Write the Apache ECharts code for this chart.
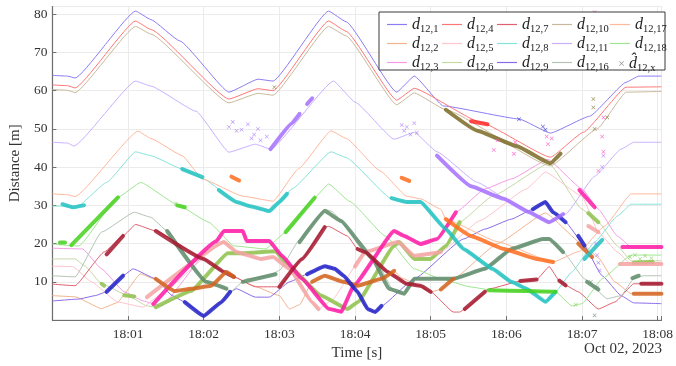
<!DOCTYPE html>
<html>
<head>
<meta charset="utf-8">
<script src="https://cdn.jsdelivr.net/npm/echarts@6/dist/echarts.min.js"></script>
<style>
  html, body { margin: 0; padding: 0; background: #fff; }
  #chart { width: 676px; height: 366px; }
</style>
</head>
<body>
<div id="chart"></div>
<script>
// time in seconds after 18:00:00, distance in metres
const xTicks = [60, 120, 180, 240, 300, 360, 420, 480];

const d12_1 = [[0,64],[12,63.8],[18,63.3],[66,80.8],[78,78.6],[101,73],[140,59.6],[163,63],[175,62.5],[219,80.8],[233,78],[273,59.6],[287,63.8],[310,56],[370,52.6],[395,48.9],[426,53.3],[455,62.2],[465,63.8],[483,63.8]];
const d12_4 = [[0,61.5],[12,61.3],[18,60.7],[66,78.2],[78,76],[140,57.8],[163,60.5],[175,60],[219,78.2],[233,75.5],[273,57.5],[287,60.6],[339,51.8],[395,42.6],[421,49.1],[455,60.9],[483,61]];
const d12_10 = [[0,60.3],[12,60.1],[18,59.5],[66,76.8],[78,74.8],[140,56.8],[163,59.3],[175,58.8],[219,76.8],[233,74.3],[273,56.3],[287,59.4],[312,55],[395,40.3],[432,50],[455,59.6],[483,59.8]];
const d12_11 = [[0,46.5],[12,46.3],[17,45.5],[66,62.5],[78,61.2],[114,54.6],[140,43.9],[161,46],[173,44.7],[223,62.5],[240,57],[271,47.3],[287,49.1],[305,44],[337,36],[368,30],[394,25.6],[407,27.7],[430,37.6],[451,44.7],[461,46.5],[483,46.5]];
const d12_17 = [[0,33],[12,32.8],[18,32.3],[68,49.4],[78,47.5],[103,43],[119,36.9],[151,32.4],[175,31.1],[195,39.5],[221,49.5],[233,47.5],[260,39],[281,32.4],[292,31.7],[308,29],[312,26.4],[353,20.5],[397,15.2],[418,18],[438,24.6],[459,33],[483,33]];
const d12_8 = [[0,29.8],[12,29.8],[18,29.2],[43,36],[66,44],[78,43],[103,39.5],[120,36.9],[146,30.9],[157,29.8],[172,28.5],[180,30.9],[190,34.3],[221,44],[233,42.5],[269,31.7],[281,30.9],[292,30.9],[312,23.8],[326,18.6],[349,13.4],[364,10],[376,8.2],[391,4.8],[399,7.4],[412,12.6],[430,20.4],[448,27.2],[459,30.3],[483,30.3]];
const d12_18 = [[0,19.9],[18,19.4],[21,19.4],[52,32.1],[70,36],[101,29.8],[124,25.6],[144,19.4],[169,18.6],[185,23],[208,32],[219,35.6],[236,31],[264,22],[287,13.4],[308,10.8],[331,8.7],[349,7.8],[376,7.6],[399,7.4],[412,3.7],[420,4.3],[436,10.8],[459,17],[483,17]];
const d12_3 = [[0,18.8],[24,18.6],[39,13.4],[57,7.4],[72,5],[86,3.7],[130,20.6],[136,23.3],[151,23.3],[154,20.7],[172,20.7],[182,16.8],[198,10.8],[219,3],[229,2.2],[239,9],[271,23.3],[279,22],[292,19.9],[305,21.2],[320,28.2],[343,34.3],[364,36.9],[393,42],[420,34.3],[433,29],[448,22],[459,19.1],[483,19.1]];
const d12_5 = [[0,14.1],[16,14],[31,10],[52,4.7],[72,3.4],[83,6],[136,20.4],[146,17.8],[165,16],[175,16.5],[188,13.4],[206,4.7],[211,2.9],[221,5],[248,17.8],[274,20.4],[287,16.8],[308,17.8],[339,26],[376,34.3],[391,38.7],[420,32.4],[433,23],[448,17.8],[459,14.7],[483,14.7]];
const d12_6 = [[0,16],[18,16],[26,14.1],[39,9.5],[60,6.4],[75,3.7],[82,3.4],[110,7.6],[139,17.5],[151,17.5],[177,18],[185,15],[213,6.4],[234,2.9],[242,4.7],[271,19.4],[275,20.4],[287,16],[300,16],[312,19.4],[323,25.6],[349,32.4],[394,41],[420,29],[433,25.6],[448,19.4],[459,15.5],[483,15.5]];
const d12_16 = [[0,11.6],[18,11.3],[39,23],[65,28.2],[78,26.9],[91,23.3],[122,10],[138,8.2],[141,7.4],[154,10.8],[172,11.6],[180,13],[196,21],[216,29],[221,28.5],[242,21.2],[256,16],[271,7.4],[279,6.9],[287,10.8],[318,10.8],[343,13.4],[364,18.6],[389,21.2],[394,21.2],[405,17.8],[422,10.8],[440,5.6],[451,6.4],[461,10.8],[469,11.6],[483,11.6]];
const d12_7 = [[0,9.4],[18,9],[41,17.8],[56,22],[66,25],[82,23.3],[120,16],[136,12.6],[144,11.3],[161,8.7],[180,8.7],[198,16],[216,24.3],[219,24.5],[234,22],[242,18.6],[248,17.8],[266,12.6],[281,9.5],[292,9],[300,7.4],[318,2.1],[323,2.1],[327,2.9],[347,8.2],[371,10.2],[384,10.6],[394,14],[402,10.3],[407,9.1],[417,7.4],[433,2.9],[446,4.7],[461,9.5],[483,9.5]];
const d12_2 = [[0,6.4],[18,6.1],[39,3],[51,4.5],[70,12.1],[80,10.8],[97,7.6],[110,8.2],[126,9],[138,12.6],[144,11.3],[159,9],[180,6.4],[188,2.9],[196,4],[206,10],[216,11.6],[231,10],[242,9],[261,10.8],[271,12.9],[277,11],[300,7.4],[308,8],[318,10.8],[353,20],[391,28],[422,19.4],[433,16.3],[446,10],[459,6.9],[483,6.9]];
const d12_9 = [[0,5],[21,5.5],[34,6.4],[43,7.4],[56,11.6],[64,13.4],[82,10.8],[95,6.4],[105,4.7],[120,1.1],[134,4.7],[141,7.4],[146,8.2],[161,6],[172,6],[188,10],[206,12.6],[216,14.1],[224,13.4],[231,11.6],[242,7.4],[250,2.9],[256,2.1],[261,3.7],[287,10.8],[326,21.2],[343,23.8],[364,26.4],[381,29],[391,30.9],[397,28.2],[407,25.6],[420,20.4],[436,11.6],[451,6.4],[461,4.5],[483,4.3]];

// estimated distances, dense runs of markers (each inner list is one run)
const estBlue = [[[43,7.4],[56,11.6]], [[105,4.7],[120,1.1],[134,4.7],[141,7.4]], [[202,12],[216,14.1],[224,13.4],[231,11.6],[242,7.4],[250,2.9],[256,2.1],[261,3.7]], [[381,29],[391,30.9],[397,28.2],[407,25.6]], [[417,22],[422,19.5]]];
const estOrangeBrown = [[[82,10.8],[97,7.6],[110,8.2],[126,9],[138,12.6],[144,11.3]], [[206,10],[216,11.6],[231,10],[242,9],[261,10.8],[271,12.9]], [[308,8],[318,10.8]], [[417,20],[428,16.5]], [[461,6.9],[483,6.9]]];
const estMaroon = [[[43,17.2],[56,22]], [[82,23.3],[120,16],[136,12.6],[144,11.3]], [[180,8.7],[198,16],[216,24.3]], [[242,18.6],[248,17.8],[266,12.6],[281,9.5],[292,9],[300,7.4]], [[327,2.9],[343,7.4]], [[371,10.2],[384,10.6]], [[402,10.3],[407,9.1]], [[467,9.5],[483,9.5]]];
const estGreen = [[[6,20.3],[10,20.3]], [[15,19.6],[52,32.1]], [[99,30],[105,29.5]], [[185,23],[208,32]], [[346,7.8],[376,7.6],[399,7.4]]];
const estTeal = [[[8,30.3],[16,29.5],[25,30]], [[103,39.5],[119,37.4]], [[132,34],[146,30.9],[157,29.8],[172,28.5],[180,30.9],[186,33]], [[269,31.9],[281,30.9],[292,30.9],[312,23.8],[326,18.6],[349,13.4],[364,10],[376,8.2],[391,4.8],[399,7.4]], [[422,16],[436,21]]];
const estMagenta = [[[80,4.2],[130,20.6],[136,23.3],[151,23.3],[154,20.7],[172,20.7],[182,16.8],[198,10.8],[219,3],[229,2.2],[239,9],[271,23.3],[279,22],[292,19.9],[305,21.2],[320,28.2]], [[418,34],[430,29.5]], [[452,19.1],[483,19.1]]];
const estSalmon = [[[75,6],[136,20.4],[146,17.8],[165,16],[175,16.5],[188,13.4],[206,4.7],[211,2.9]], [[240,14],[248,17.8],[274,20.4],[287,16.8],[308,17.8]], [[425,24.6],[433,23]], [[450,14.7],[483,14.7]]];
const estOlive = [[[39,9.5],[41,9]], [[57,6.5],[65,6.2]], [[82,3.4],[110,7.6],[139,17.5],[151,17.5],[177,18],[185,15],[213,6.4],[234,2.9],[242,4.7],[271,19.4],[275,20.4],[287,16],[300,16],[312,19.4],[323,25.6]], [[425,28],[433,25.6]], [[461,15],[476,15.2]]];
const estGray = [[[91,23.3],[122,10],[138,8.2]], [[151,10],[177,12]], [[196,20.4],[216,28.5],[229,25.9],[254,16],[267,8.2],[279,6.9],[287,10.8],[318,10.8],[343,13.4],[364,18.6],[389,21.2],[394,21.2],[405,17.8]], [[424,10],[433,8]], [[460,11],[465,11.6]]];
const estOrange = [[[312,26.4],[332,22],[358,18.6],[384,16],[397,15.2]], [[142,37.5],[148,36.5]], [[277,37.2],[283,36.4]]];
const estPurple = [[[173,44.7],[190,51.5],[196,53.9]], [[202,56.5],[206,58]], [[305,43],[332,35],[358,31.7],[378,28.2],[394,25.6],[405,27.7]]];
const estOliveBrown = [[[312,55],[337,49.5],[368,45.5],[395,41],[403,43.5]]];
const estRed = [[[332,52],[345,51.2]]];

// single scattered estimates
const dotsPurple = [[140,50.5],[143,51.8],[146,49.5],[150,49.8],[155,51.2],[158,47.5],[160,48.5],[163,50],[165,47],[170,48],[277,51],[279,49.5],[281,50.5],[284,48.5],[287,51.5],[289,49],[431,20],[432,17],[433,15],[434,13],[436,40],[437,43]];
const dotsPink = [[350,44.5],[353,47],[367,46.5],[366,43.5],[392,48],[393,46],[396,47.5],[430,80.5],[437,53],[436,48],[437,44],[433,39]];
const dotsOliveBrown = [[176,60.9],[429,57.8],[429,55.6],[430,50],[440,53]];
const dotsBlue = [[370,52.5],[389,50.6],[391,49.8]];
const dotsGreen = [[458,16.5],[462,17],[466,16],[470,16.8],[475,16.2],[415,4],[98,30.5]];
const dotsGray = [[427,10],[432,8.5],[430,1.2]];

const lines = [
    { key: "d12,1", color: "#8a7cf5", data: d12_1 },
    { key: "d12,2", color: "#f2b48e", data: d12_2 },
    { key: "d12,3", color: "#f59be6", data: d12_3 },
    { key: "d12,4", color: "#ff7676", data: d12_4 },
    { key: "d12,5", color: "#ffc4cc", data: d12_5 },
    { key: "d12,6", color: "#c5d9a4", data: d12_6 },
    { key: "d12,7", color: "#e0606e", data: d12_7 },
    { key: "d12,8", color: "#86e3da", data: d12_8 },
    { key: "d12,9", color: "#8a6be6", data: d12_9 },
    { key: "d12,10", color: "#c9b99a", data: d12_10 },
    { key: "d12,11", color: "#c9b0ff", data: d12_11 },
    { key: "d12,16", color: "#b4c4b4", data: d12_16 },
    { key: "d12,17", color: "#ffb89c", data: d12_17 },
    { key: "d12,18", color: "#9ee68f", data: d12_18 }
];

const tracks = [
    { color: "#8fc24e", runs: estOlive },
    { color: "#f5a3a3", runs: estSalmon },
    { color: "#5e8b6a", runs: estGray },
    { color: "#ff1ba6", runs: estMagenta },
    { color: "#a5182e", runs: estMaroon },
    { color: "#d2641e", runs: estOrangeBrown },
    { color: "#2222c8", runs: estBlue },
    { color: "#22c2c2", runs: estTeal },
    { color: "#44d11c", runs: estGreen },
    { color: "#ff6b1c", runs: estOrange },
    { color: "#a470ff", runs: estPurple },
    { color: "#7b6b24", runs: estOliveBrown },
    { color: "#ff2a2a", runs: estRed }
];

const dots = [
    { color: "#a470ff", data: dotsPurple },
    { color: "#ff40c0", data: dotsPink },
    { color: "#7b6b24", data: dotsOliveBrown },
    { color: "#2222c8", data: dotsBlue },
    { color: "#7fcf50", data: dotsGreen },
    { color: "#6f8f78", data: dotsGray }
];

const crossPath = "path://M0,1L1,0L5,4L9,0L10,1L6,5L10,9L9,10L5,6L1,10L0,9L4,5Z";
const serif = "Liberation Serif";

const buildSeries = () => {
    let series = [];
    lines.forEach(l => {
        series.push({
            name: l.key,
            type: "line",
            data: l.data,
            symbol: "none",
            smooth: 0.12,
            smoothMonotone: "x",
            z: 2,
            lineStyle: { width: 1, color: l.color },
            itemStyle: { color: l.color }
        });
    });
    tracks.forEach(t => {
        t.runs.forEach(run => {
            series.push({
                name: "dhat",
                type: "line",
                data: run,
                symbol: "none",
                smooth: 0.1,
                smoothMonotone: "x",
                z: 3,
                lineStyle: { width: 4, color: t.color, opacity: 0.85, cap: "round", join: "round" },
                itemStyle: { color: "#999" }
            });
        });
    });
    dots.forEach(d => {
        series.push({
            name: "dhat",
            type: "scatter",
            data: d.data,
            symbol: crossPath,
            symbolSize: 4,
            z: 3,
            itemStyle: { color: d.color }
        });
    });
    return series;
};

const legendText = name => {
    if (name === "dhat") return "{d|d\u0302}{s|12,x}";
    return "{d|d}{s|" + name.slice(1) + "}";
};

const legendRich = {
    d: { fontFamily: serif, fontStyle: "italic", fontSize: 16, color: "#222", lineHeight: 19 },
    s: { fontFamily: serif, fontSize: 10.5, color: "#222", padding: [10, 0, 0, 0] }
};

const legendColumn = (names, left) => ({
    orient: "vertical",
    left: left,
    top: 11.5,
    z: 10,
    icon: "rect",
    itemWidth: 20,
    itemHeight: 1.2,
    itemGap: 0.5,
    selectedMode: false,
    data: names,
    formatter: legendText,
    textStyle: { rich: legendRich }
});

const getOption = () => ({
    animation: false,
    backgroundColor: "#fff",
    grid: { left: 45, right: 8, top: 6.5, bottom: 44.5, show: true, borderColor: "#c6c6c6", borderWidth: 1 },
    xAxis: {
        type: "value",
        min: 0,
        max: 483,
        interval: 60,
        name: "Time [s]",
        nameLocation: "middle",
        nameGap: 25,
        nameTextStyle: { fontFamily: serif, fontSize: 15, color: "#333" },
        axisLine: { lineStyle: { color: "#6e6e6e", width: 1.2 } },
        axisTick: { inside: true, length: 4, lineStyle: { color: "#6e6e6e" } },
        axisLabel: {
            fontFamily: serif,
            fontSize: 13.5,
            color: "#333",
            margin: 7,
            formatter: v => (xTicks.indexOf(v) >= 0 ? "18:0" + v / 60 : "")
        },
        splitLine: { lineStyle: { color: "#ebebeb" } }
    },
    yAxis: {
        type: "value",
        min: 0,
        max: 82,
        interval: 10,
        name: "Distance [m]",
        nameLocation: "middle",
        nameGap: 24,
        nameTextStyle: { fontFamily: serif, fontSize: 15, color: "#333" },
        axisLine: { show: true, lineStyle: { color: "#6e6e6e", width: 1.2 } },
        axisTick: { show: true, inside: true, length: 4, lineStyle: { color: "#6e6e6e" } },
        axisLabel: {
            fontFamily: serif,
            fontSize: 13.5,
            color: "#333",
            margin: 5,
            showMinLabel: false,
            showMaxLabel: false
        },
        splitLine: { lineStyle: { color: "#ebebeb" } }
    },
    legend: [
        legendColumn(["d12,1", "d12,2", "d12,3"], 382),
        legendColumn(["d12,4", "d12,5", "d12,6"], 437),
        legendColumn(["d12,7", "d12,8", "d12,9"], 492),
        legendColumn(["d12,10", "d12,11", "d12,16"], 547),
        legendColumn(["d12,17", "d12,18"], 605),
        Object.assign(legendColumn([{ name: "dhat", icon: crossPath, itemStyle: { color: "#9a9a9a" } }], 614), {
            top: 50.5,
            itemWidth: 5,
            itemHeight: 5,
            itemGap: 0
        })
    ],
    graphic: [
        {
            type: "rect",
            z: 8,
            shape: { x: 379, y: 12, width: 286, height: 58 },
            style: { fill: "#fff", stroke: "#3a3a3a", lineWidth: 1 }
        },
        {
            type: "text",
            right: 14,
            top: 342,
            style: { text: "Oct 02, 2023", font: "15px " + serif, fill: "#333" }
        }
    ],
    series: buildSeries()
});

const chart = echarts.init(document.getElementById("chart"), null, { renderer: "canvas" });
chart.setOption(getOption());
</script>
</body>
</html>
